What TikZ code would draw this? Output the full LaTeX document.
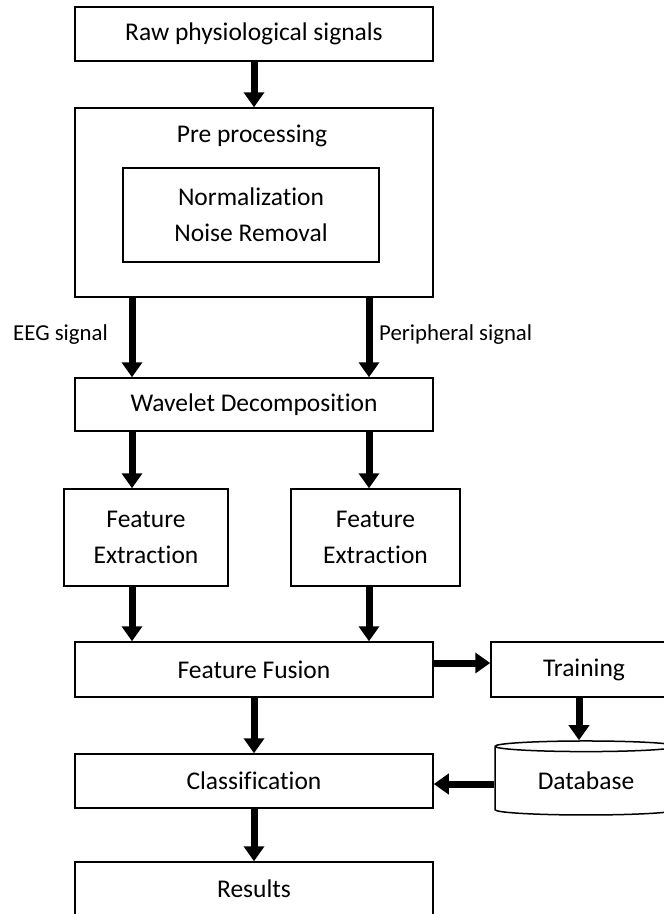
\documentclass[tikz,border=0pt]{standalone}
\usepackage{fontspec}
\setmainfont{Carlito}[Ligatures=NoCommon]
\usetikzlibrary{arrows.meta,shapes.geometric}
\newdimen\unitsize
\setlength{\unitsize}{1pt}

\begin{document}
\begin{tikzpicture}[x=\unitsize,y=-\unitsize]
\tikzset{block/.style={draw, line width=1.5pt, inner sep=0pt, align=center, font=\fontsize{25.5}{36}\selectfont}}%
\tikzset{flow/.style={line width=7pt, -{Triangle[width=20pt,length=15pt]}}}%
\tikzset{note/.style={inner sep=0pt, font=\fontsize{22.8}{26}\selectfont}}%
\clip (0,0) rectangle (664,914);
\fill[white] (0,0) rectangle (664,914);
\coordinate (eeg) at (132,0);
\coordinate (per) at (369,0);
\node[block, minimum width=358, minimum height=54] (raw) at (254,34) {Raw physiological signals};
\node[block, minimum width=358, minimum height=189] (pre) at (254,202.5) {};
\node[inner sep=0pt, font=\fontsize{25.5}{36}\selectfont] (prelbl) at (252,136) {Pre processing};
\node[block, minimum width=256, minimum height=94] (norm) at (251,215) {Normalization\\Noise Removal};
\node[block, minimum width=358, minimum height=53] (wav) at (254,404.5) {Wavelet Decomposition};
\node[block, minimum width=164, minimum height=97] (fel) at (146,537.5) {Feature\\Extraction};
\node[block, minimum width=169, minimum height=97] (fer) at (375.5,537.5) {Feature\\Extraction};
\node[block, minimum width=358, minimum height=55] (fuse) at (254,669.5) {Feature Fusion};
\node[block, minimum width=186, minimum height=55] (train) at (584,669.5) {Training};
\node[block, cylinder, shape border rotate=90, aspect=0.11, minimum width=182, minimum height=74] (db) at (586,781) {Database};
\node[block, minimum width=358, minimum height=54] (cls) at (254,781) {Classification};
\node[block, minimum width=358, minimum height=54] (res) at (254,889) {Results};
\node[note, anchor=east] (eeglbl) at (108,335) {EEG signal};
\node[note, anchor=west] (perlbl) at (379,335) {Peripheral signal};
% arrows
\draw[flow] (raw) -- (pre);
\draw[flow] (pre.south -| eeg) -- (wav.north -| eeg);
\draw[flow] (pre.south -| per) -- (wav.north -| per);
\draw[flow] (wav.south -| eeg) -- (fel.north -| eeg);
\draw[flow] (wav.south -| per) -- (fer.north -| per);
\draw[flow] (fel.south -| eeg) -- (fuse.north -| eeg);
\draw[flow] (fer.south -| per) -- (fuse.north -| per);
\draw[flow] ([yshift=6.5pt]fuse.east) -- ([yshift=6.5pt]train.west);
\draw[flow] ([xshift=-5pt]train.south) -- ([xshift=-5pt]train.south |- db.north);
\draw[flow] ([yshift=-3pt]db.west) -- ([yshift=-3pt]db.west -| cls.east);
\draw[flow] (fuse) -- (cls);
\draw[flow] (cls) -- (res);
\end{tikzpicture}
\end{document}
